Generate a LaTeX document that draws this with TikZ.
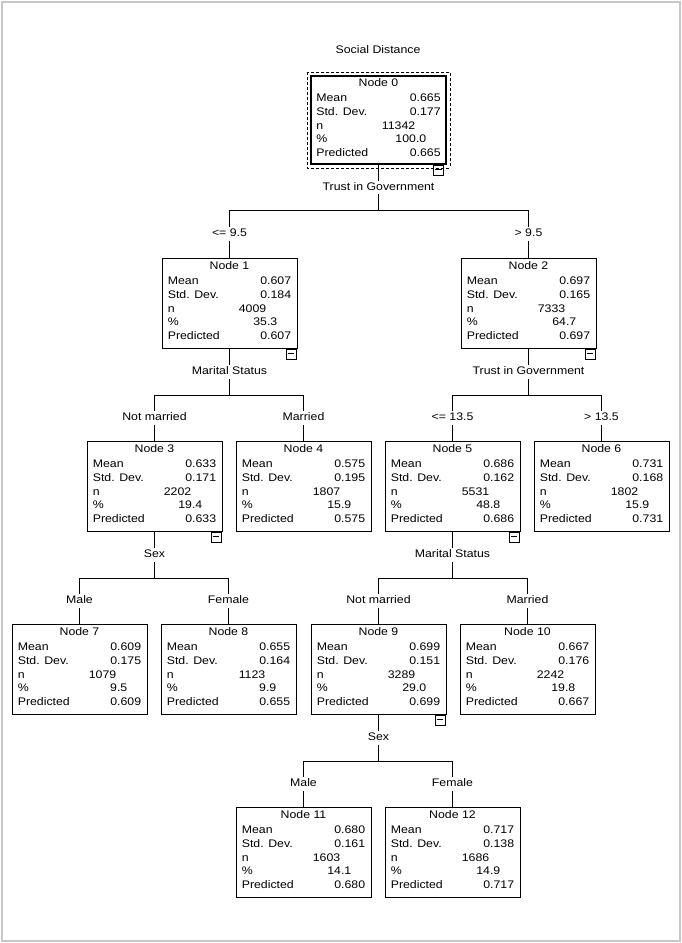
\documentclass[tikz,border=0pt]{standalone}
\usepackage{fontspec}
\setmainfont{Liberation Sans}[FakeStretch=1.12]
\tikzset{
  txt/.style={inner sep=0pt, font=\fontsize{11}{13}\selectfont, text height=8pt, text depth=2.5pt},
  box/.style={draw, line width=0.8pt, minimum width=135pt, minimum height=90pt, inner sep=0pt, anchor=north},
  lab/.style={txt, fill=white, inner xsep=1.5pt, inner ysep=1.5pt},
  minusbox/.style={draw, line width=0.6pt, minimum size=10pt, inner sep=0pt, anchor=north east},
  edge/.style={line width=0.8pt},
  frame/.style={draw=black!22, line width=1.2pt},
}
\newcommand{\treenode}[9]{%
  \node[box,#9] (#1) at (#2,#3) {};
  \node[txt] (#1t) at ([yshift=-9pt]#1.north) {Node #4};
  \node[txt,anchor=west] (#1a) at ([xshift=6pt,yshift=-23.5pt]#1.north west) {Mean};
  \node[txt,anchor=east] (#1b) at ([xshift=-6pt,yshift=-23.5pt]#1.north east) {#5};
  \node[txt,anchor=west] (#1c) at ([xshift=6pt,yshift=-37.5pt]#1.north west) {Std. Dev.};
  \node[txt,anchor=east] (#1d) at ([xshift=-6pt,yshift=-37.5pt]#1.north east) {#6};
  \node[txt,anchor=west] (#1e) at ([xshift=6pt,yshift=-51.5pt]#1.north west) {n};
  \node[txt,anchor=east] (#1f) at ([xshift=37pt,yshift=-51.5pt]#1.north) {#7};
  \node[txt,anchor=west] (#1g) at ([xshift=6pt,yshift=-65pt]#1.north west) {\%};
  \node[txt,anchor=east] (#1h) at ([xshift=48pt,yshift=-65pt]#1.north) {#8};
  \node[txt,anchor=west] (#1i) at ([xshift=6pt,yshift=-79pt]#1.north west) {Predicted};
  \node[txt,anchor=east] (#1j) at ([xshift=-6pt,yshift=-79pt]#1.north east) {#5};
}
\newcommand{\minusmark}[2]{%
  \node[minusbox] (#1m) at ([xshift=-#2]#1.south east) {};
  \draw[line width=0.6pt] ([xshift=2pt,yshift=-4pt]#1m.north west) -- ([xshift=-2pt,yshift=-4pt]#1m.north east);
}
\begin{document}
\begin{tikzpicture}[x=1pt,y=-1pt]
\useasboundingbox (0,0) rectangle (682,943);
\draw[frame] (2,2) rectangle (680,941);

\node[txt] (title) at (378,51) {Social Distance};

% nodes
\treenode{n0}{378.5}{75}{0}{0.665}{0.177}{11342}{100.0}{line width=1.8pt, minimum height=88pt}
\treenode{n1}{229.5}{258}{1}{0.607}{0.184}{4009}{35.3}{}
\treenode{n2}{528.5}{258}{2}{0.697}{0.165}{7333}{64.7}{}
\treenode{n3}{154.5}{441}{3}{0.633}{0.171}{2202}{19.4}{}
\treenode{n4}{303.5}{441}{4}{0.575}{0.195}{1807}{15.9}{}
\treenode{n5}{452.5}{441}{5}{0.686}{0.162}{5531}{48.8}{}
\treenode{n6}{601.5}{441}{6}{0.731}{0.168}{1802}{15.9}{}
\treenode{n7}{79.5}{624}{7}{0.609}{0.175}{1079}{9.5}{}
\treenode{n8}{228.5}{624}{8}{0.655}{0.164}{1123}{9.9}{}
\treenode{n9}{378.5}{624}{9}{0.699}{0.151}{3289}{29.0}{}
\treenode{n10}{527.5}{624}{10}{0.667}{0.176}{2242}{19.8}{}
\treenode{n11}{303.5}{807}{11}{0.680}{0.161}{1603}{14.1}{}
\treenode{n12}{452.5}{807}{12}{0.717}{0.138}{1686}{14.9}{}

\draw[dashed, line width=0.6pt, dash pattern=on 3pt off 2pt]
  ([shift={(-3pt,3pt)}]n0.north west) rectangle ([shift={(3pt,-3pt)}]n0.south east);

\minusmark{n0}{3pt}
\minusmark{n1}{1pt}
\minusmark{n2}{1pt}
\minusmark{n3}{1pt}
\minusmark{n5}{1pt}
\minusmark{n9}{1pt}

% split points
\coordinate (h0) at (378.5,210);
\coordinate (h1) at (229.5,395);
\coordinate (h2) at (528.5,395);
\coordinate (h3) at (154.5,578);
\coordinate (h5) at (452.5,578);
\coordinate (h9) at (378.5,761);

% connectors
\draw[edge] (n0.south) -- node[lab] (s0) {Trust in Government} (h0);
\draw[edge] (h0) -| node[lab,pos=0.75] (e1) {<= 9.5} (n1.north);
\draw[edge] (h0) -| node[lab,pos=0.75] (e2) {> 9.5} (n2.north);

\draw[edge] (n1.south) -- node[lab] (s1) {Marital Status} (h1);
\draw[edge] (h1) -| node[lab,pos=0.75] (e3) {Not married} (n3.north);
\draw[edge] (h1) -| node[lab,pos=0.75] (e4) {Married} (n4.north);

\draw[edge] (n2.south) -- node[lab] (s2) {Trust in Government} (h2);
\draw[edge] (h2) -| node[lab,pos=0.75] (e5) {<= 13.5} (n5.north);
\draw[edge] (h2) -| node[lab,pos=0.75] (e6) {> 13.5} (n6.north);

\draw[edge] (n3.south) -- node[lab] (s3) {Sex} (h3);
\draw[edge] (h3) -| node[lab,pos=0.75] (e7) {Male} (n7.north);
\draw[edge] (h3) -| node[lab,pos=0.75] (e8) {Female} (n8.north);

\draw[edge] (n5.south) -- node[lab] (s5) {Marital Status} (h5);
\draw[edge] (h5) -| node[lab,pos=0.75] (e9) {Not married} (n9.north);
\draw[edge] (h5) -| node[lab,pos=0.75] (e10) {Married} (n10.north);

\draw[edge] (n9.south) -- node[lab] (s9) {Sex} (h9);
\draw[edge] (h9) -| node[lab,pos=0.75] (e11) {Male} (n11.north);
\draw[edge] (h9) -| node[lab,pos=0.75] (e12) {Female} (n12.north);
\end{tikzpicture}
\end{document}
